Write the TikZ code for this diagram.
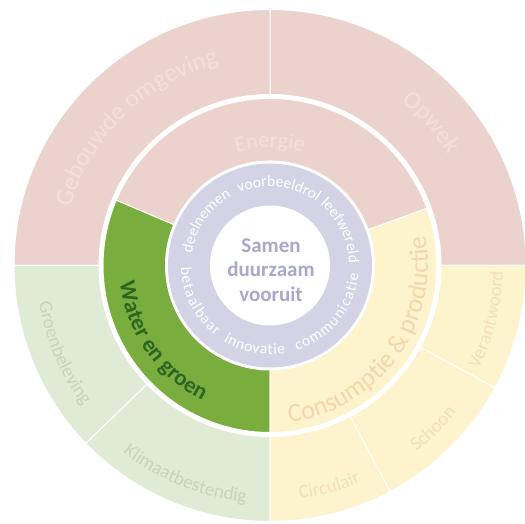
\documentclass[tikz,border=0pt]{standalone}
\usepackage{fontspec}
\setmainfont{Carlito}
\usepackage{tikz}
\usetikzlibrary{decorations.text}
\definecolor{roze}{RGB}{236,210,204}
\definecolor{rozetekst}{RGB}{242,223,218}
\definecolor{lichtgroen}{RGB}{223,235,213}
\definecolor{grijsgroen}{RGB}{196,212,191}
\definecolor{groen}{RGB}{121,174,62}
\definecolor{donkergroen}{RGB}{44,102,34}
\definecolor{geel}{RGB}{253,243,205}
\definecolor{perzik}{RGB}{244,214,172}
\definecolor{lichtperzik}{RGB}{245,223,184}
\definecolor{paars}{RGB}{211,211,229}
\definecolor{paarstekst}{RGB}{168,168,205}

\newcommand{\taartstuk}[5]{%
  \filldraw[vlak, fill=#1] (#4:#3) arc[start angle=#4, end angle=#5, radius=#3]
    -- (#5:#2) arc[start angle=#5, end angle=#4, radius=#2] -- cycle;}
\newcommand{\boogtekst}[7]{%
  \path[decorate, decoration={text along path, text color=#2, text align=center,
    text={|\fontsize{#1}{#1}\selectfont#7|#6}}]
    (#4:#3) arc[start angle=#4, end angle=#5, radius=#3];}
\newcommand{\ringwoord}[4]{%
  \path[decorate, decoration={text along path, text color=white, text align=fit to path,
    text={|\fontsize{15.5}{15.5}\selectfont|#4}}]
    (#2:#1) arc[start angle=#2, end angle=#3, radius=#1];}

\begin{document}
\begin{tikzpicture}[
  x=1pt, y=1pt,
  vlak/.style={draw=white, line width=1pt},
  kern/.style={align=center, text=paarstekst, font=\fontsize{21}{24.5}\selectfont\bfseries}
]
\useasboundingbox (0,0) rectangle (525,523);

\begin{scope}[shift={(270,257.5)}]
\taartstuk{roze}{171}{256}{0}{90}
\taartstuk{roze}{171}{256}{90}{180}
\taartstuk{lichtgroen}{171}{256}{180}{224}
\taartstuk{lichtgroen}{171}{256}{224}{270}
\taartstuk{geel}{171}{256}{270}{298}
\taartstuk{geel}{171}{256}{298}{331.5}
\taartstuk{geel}{171}{256}{331.5}{360}

\taartstuk{roze}{104.5}{167}{20}{157}
\taartstuk{groen}{104.5}{167}{157}{270}
\taartstuk{geel}{104.5}{167}{270}{380}

\fill[paars] (0,0) circle[radius=102];
\fill[white] (0,0) circle[radius=60];

\boogtekst{25}{rozetekst}{208}{194}{74}{Gebouwde omgeving}{}
\boogtekst{25}{rozetekst}{210}{81.5}{1.5}{Opwek}{}
\boogtekst{22}{rozetekst}{118}{130}{50}{Energie}{}
\boogtekst{23}{donkergroen}{151}{155}{275}{Water en groen}{\bfseries}
\boogtekst{26}{perzik}{158}{244}{404}{Consumptie {\&} productie}{}
\boogtekst{19}{grijsgroen}{234}{173}{233}{Groenbeleving}{}
\boogtekst{19}{grijsgroen}{238}{218}{278}{Klimaatbestendig}{}
\boogtekst{19}{lichtperzik}{235}{265}{305}{Circulair}{}
\boogtekst{19}{lichtperzik}{237}{295}{335}{Schoon}{}
\boogtekst{19}{lichtperzik}{233}{326}{366}{Verantwoord}{}

\ringwoord{79}{171}{119.5}{deelnemen}
\ringwoord{79}{113}{54}{voorbeeldrol}
\ringwoord{79}{50.5}{4.5}{leefwereld}
\ringwoord{89}{181}{232.5}{betaalbaar}
\ringwoord{89}{238.5}{280}{innovatie}
\ringwoord{89}{287.5}{354.5}{communicatie}

\node[kern] (midden) at (1,-4.5) {Samen\\duurzaam\\vooruit};
\end{scope}
\end{tikzpicture}
\end{document}
